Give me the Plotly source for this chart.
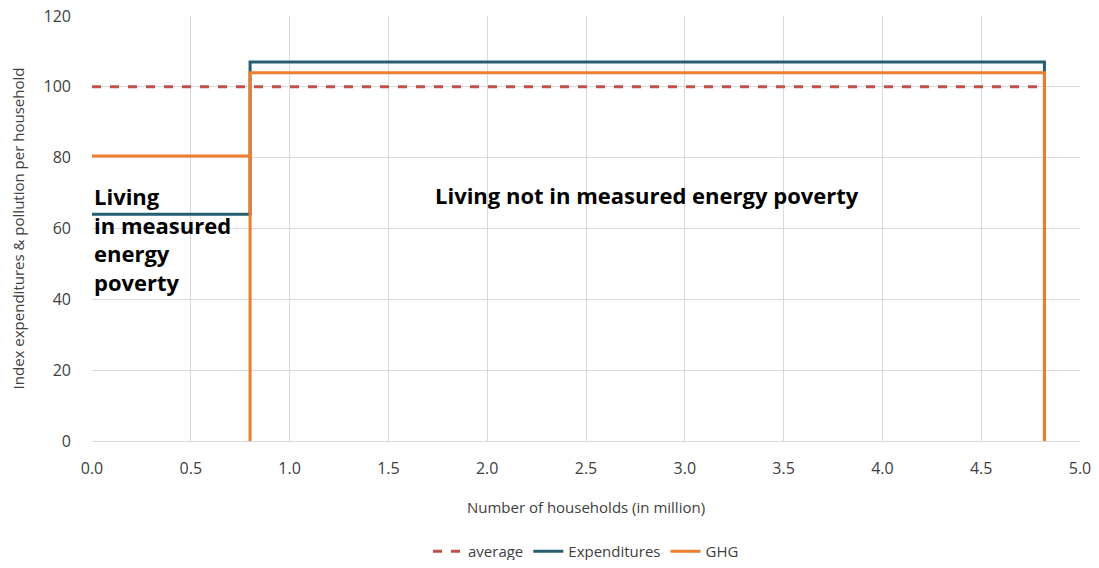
import plotly.graph_objects as go

# step data (x in million households)
avg_x = [0, 4.82]
avg_y = [100, 100]
exp_x = [0, 0.8, 0.8, 4.82, 4.82]
exp_y = [64, 64, 107, 107, 0]
ghg_x = [0, 0.8, 0.8, 0.8, 4.82, 4.82]
ghg_y = [80.5, 80.5, 0, 104, 104, 0]

fig = go.Figure()
fig.add_trace(go.Scatter(x=avg_x, y=avg_y, mode="lines", name="average",
                         line=dict(color="#C0504D", width=3, dash="dash")))
fig.add_trace(go.Scatter(x=exp_x, y=exp_y, mode="lines", name="Expenditures",
                         line=dict(color="#255E6F", width=3)))
fig.add_trace(go.Scatter(x=ghg_x, y=ghg_y, mode="lines", name="GHG",
                         line=dict(color="#ED7D31", width=3)))

fig.add_annotation(x=0.0, y=74, xanchor="left", yanchor="top", showarrow=False, align="left",
                   text="<b>Living<br>in measured<br>energy<br>poverty</b>",
                   font=dict(size=22, color="black"))
fig.add_annotation(x=2.81, y=69.5, xanchor="center", yanchor="middle", showarrow=False,
                   text="<b>Living not in measured energy poverty</b>",
                   font=dict(size=22, color="black"))

fig.update_layout(
    width=1083, height=552, paper_bgcolor="white", plot_bgcolor="white",
    margin=dict(l=84, r=11, t=8, b=119, autoexpand=False),
    font=dict(family="Open Sans", size=15, color="#404040"),
    xaxis=dict(range=[0, 5], dtick=0.5, tickformat=".1f", showgrid=True, gridcolor="#D9D9D9",
               zeroline=False, showline=True, linecolor="#D9D9D9", ticks="", automargin=False,
               ticklabelstandoff=13, tickfont=dict(size=16), ticklabeloverflow="allow",
               title=dict(text="Number of households (in million)", font=dict(size=15), standoff=24)),
    yaxis=dict(range=[0, 120], dtick=20, showgrid=True, gridcolor="#D9D9D9", zeroline=False,
               automargin=False, ticklabelstandoff=20, tickfont=dict(size=16), ticklabeloverflow="allow",
               title=dict(text="Index expenditures & pollution per household", font=dict(size=15), standoff=26)),
    legend=dict(orientation="h", x=0.5, xanchor="center", y=-0.26, yanchor="middle",
                font=dict(size=15)),
)
fig.write_html("out.html")
